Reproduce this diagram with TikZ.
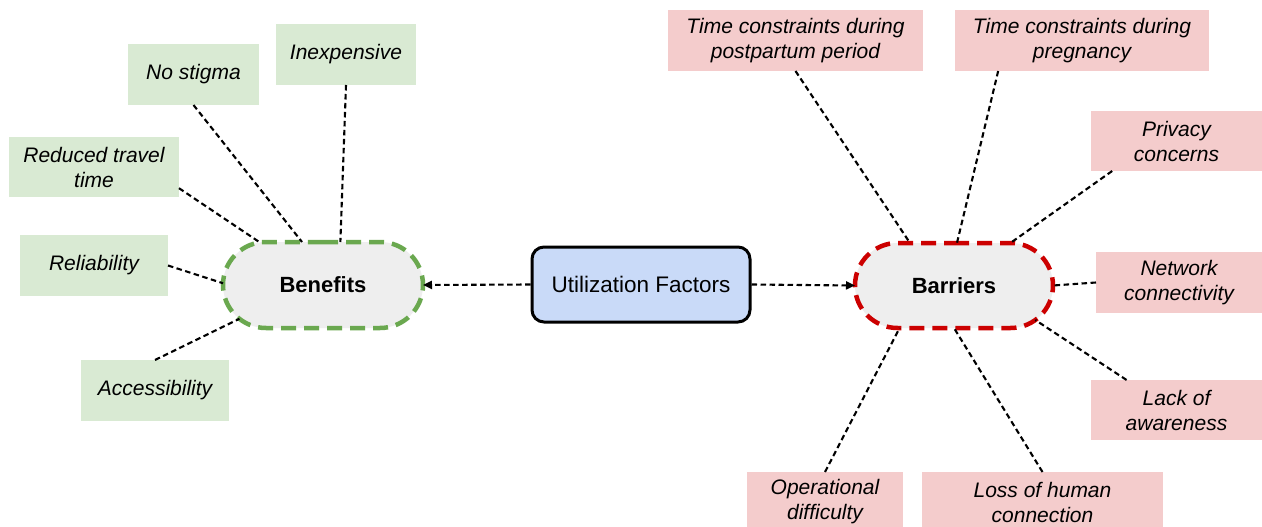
\documentclass[tikz,border=0pt]{standalone}
\usepackage{fontspec}
\setmainfont{Liberation Sans}
\usetikzlibrary{shapes.misc,arrows.meta}
\definecolor{gfill}{HTML}{D9EAD3}
\definecolor{pfill}{HTML}{F4CCCC}
\definecolor{bfill}{HTML}{C9DAF8}
\definecolor{efill}{HTML}{EEEEEE}
\definecolor{gline}{HTML}{6AA84F}
\definecolor{rline}{HTML}{CC0000}
\tikzset{
  lbl/.style={rectangle, inner sep=0pt, outer sep=0pt, minimum height=60pt, align=center,
    font=\fontsize{21}{25}\selectfont\itshape},
  gbox/.style={lbl, fill=gfill},
  pbox/.style={lbl, fill=pfill},
  hub/.style={rounded rectangle, inner sep=0pt, outer sep=0pt, fill=efill, line width=4.5pt,
    dash pattern=on 15pt off 8pt, font=\fontsize{22}{25}\selectfont\bfseries},
  conn/.style={draw=black, line width=2.1pt, dash pattern=on 5.5pt off 3.5pt},
  arr/.style={conn, -{Triangle[length=9pt,width=8pt]}}
}
\begin{document}
\begin{tikzpicture}[x=1pt,y=-1pt]
\useasboundingbox (0,0) rectangle (1262,527);
\clip (0,0) rectangle (1262,527);
\fill[white] (0,0) rectangle (1262,527);
% central
\node[rectangle, rounded corners=12pt, draw=black, line width=3pt, fill=bfill,
  minimum width=218pt, minimum height=75pt, inner sep=0pt,
  font=\fontsize{22.5}{26}\selectfont] (uf) at (641,284.5) {Utilization Factors};
\node[hub, draw=gline, minimum width=200pt, minimum height=86pt] (ben) at (323,285) {Benefits};
\node[hub, draw=rline, minimum width=198pt, minimum height=85pt] (bar) at (954,285.5) {Barriers};
% benefits
\node[gbox, minimum width=140pt, minimum height=61pt] (inex) at (346,54.5) {Inexpensive};
\node[gbox, minimum width=131pt, minimum height=61pt] (nost) at (193.5,74.5) {No stigma};
\node[gbox, minimum width=170pt] (red) at (94,167) {Reduced travel\\time};
\node[gbox, minimum width=148pt, minimum height=61pt] (rel) at (94,265.5) {Reliability};
\node[gbox, minimum width=148pt, minimum height=61pt] (acc) at (155,390.5) {Accessibility};
% barriers
\node[pbox, minimum width=255pt, minimum height=61pt] (post) at (795.5,40.5) {Time constraints during\\postpartum period};
\node[pbox, minimum width=254pt, minimum height=61pt] (preg) at (1082,40.5) {Time constraints during\\pregnancy};
\node[pbox, minimum width=171pt] (priv) at (1176.5,141) {Privacy\\concerns};
\node[pbox, minimum width=166pt, minimum height=61pt] (net) at (1179,282.5) {Network\\connectivity};
\node[pbox, minimum width=171pt] (lack) at (1176.5,410) {Lack of\\awareness};
\node[pbox, minimum width=156pt] (op) at (825,502) {Operational\\difficulty};
\node[pbox, minimum width=241pt] (loss) at (1042.5,502) {Loss of human\\connection};
% arrows
\draw[arr] (uf.west) -- (ben.east);
\draw[arr] (uf.east) -- (bar.west);
% benefit connectors
\draw[conn] (inex.south) -- (ben.68);
\draw[conn] (nost.south) -- (ben.116);
\draw[conn] (red.-14) -- (ben.146);
\draw[conn] (rel.east) -- (ben.179);
\draw[conn] (acc.north) -- (ben.202);
% barrier connectors
\draw[conn] (post.south) -- (bar.136);
\draw[conn] (preg.200.6) -- (bar.86);
\draw[conn] (priv.205) -- (bar.37);
\draw[conn] (net.west) -- (bar.east);
\draw[conn] (lack.149) -- (bar.-23.6);
\draw[conn] (loss.north) -- (bar.south);
\draw[conn] (op.north) -- (bar.218.7);
\end{tikzpicture}
\end{document}
